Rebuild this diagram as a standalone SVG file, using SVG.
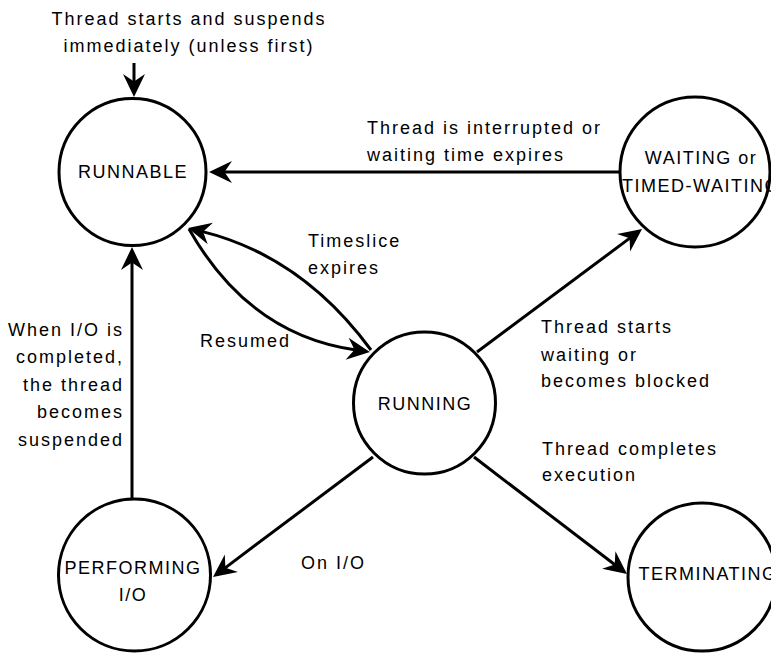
<svg xmlns="http://www.w3.org/2000/svg" width="771" height="654" viewBox="0 0 771 654">
  <style>
    .state { fill: #ffffff; stroke: #000000; stroke-width: 3; }
    .edge { fill: none; stroke: #000000; stroke-width: 3; marker-end: url(#arrow); }
    text { font-family: "Liberation Sans", Arial, sans-serif; font-size: 18px; fill: #000000; }
    .node-label { text-anchor: middle; letter-spacing: 1.5px; }
    .edge-label { letter-spacing: 2px; }
  </style>
  <defs>
    <marker id="arrow" markerUnits="userSpaceOnUse" viewBox="-25 -13 27 26" markerWidth="27" markerHeight="26" refX="-14" refY="0" orient="auto">
      <path d="M0,0 L-23,-11 L-15.5,0 L-23,11 Z" fill="#000000"/>
    </marker>
  </defs>
  <rect width="771" height="654" fill="#ffffff"/>

  <g id="connectors">
    <path class="edge" d="M134,63 L134,83"/>
    <path class="edge" d="M620,172 L223,172"/>
    <path class="edge" d="M371,350 Q302,256 201.6,231.4"/>
    <path class="edge" d="M189,229 Q249,335 356,350"/>
    <path class="edge" d="M477,352 L630.8,237.4"/>
    <path class="edge" d="M474,457 L615.9,565.5"/>
    <path class="edge" d="M373,457 L224.2,568.6"/>
    <path class="edge" d="M132,499 L132,261"/>
  </g>

  <g id="edge-labels">
    <text class="edge-label" text-anchor="middle" x="189" y="25">Thread starts and suspends</text>
    <text class="edge-label" text-anchor="middle" x="189" y="52">immediately (unless first)</text>
    <text class="edge-label" x="367" y="134">Thread is interrupted or</text>
    <text class="edge-label" x="367" y="161">waiting time expires</text>
    <text class="edge-label" x="308" y="247">Timeslice</text>
    <text class="edge-label" x="308" y="274">expires</text>
    <text class="edge-label" x="200" y="347">Resumed</text>
    <text class="edge-label" x="541" y="333">Thread starts</text>
    <text class="edge-label" x="541" y="361">waiting or</text>
    <text class="edge-label" x="541" y="387">becomes blocked</text>
    <text class="edge-label" x="542" y="455">Thread completes</text>
    <text class="edge-label" x="542" y="481">execution</text>
    <text class="edge-label" x="301" y="569">On I/O</text>
    <text class="edge-label" text-anchor="end" x="124" y="336">When I/O is</text>
    <text class="edge-label" text-anchor="end" x="124" y="363">completed,</text>
    <text class="edge-label" text-anchor="end" x="124" y="391">the thread</text>
    <text class="edge-label" text-anchor="end" x="124" y="418">becomes</text>
    <text class="edge-label" text-anchor="end" x="124" y="446">suspended</text>
  </g>

  <g id="runnable">
    <circle class="state" cx="132.5" cy="172" r="73.5"/>
    <text class="node-label" x="133" y="178">RUNNABLE</text>
  </g>
  <g id="waiting">
    <circle class="state" cx="695" cy="172" r="75"/>
    <text class="node-label" x="701" y="164">WAITING or</text>
    <text class="node-label" x="701" y="192">TIMED-WAITING</text>
  </g>
  <g id="running">
    <circle class="state" cx="424.5" cy="403" r="71"/>
    <text class="node-label" x="425" y="410">RUNNING</text>
  </g>
  <g id="performing-io">
    <circle class="state" cx="134.5" cy="575" r="76"/>
    <text class="node-label" x="133" y="574">PERFORMING</text>
    <text class="node-label" x="133" y="601">I/O</text>
  </g>
  <g id="terminating">
    <circle class="state" cx="702" cy="577" r="74"/>
    <text class="node-label" x="708" y="580">TERMINATING</text>
  </g>
</svg>
